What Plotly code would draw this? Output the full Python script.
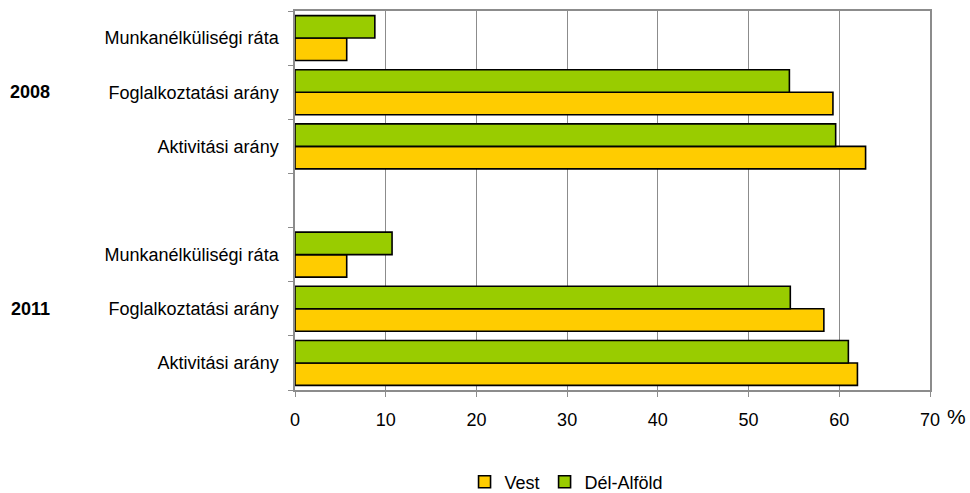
import plotly.graph_objects as go

# Category keys (bottom to top) and their display labels
cat_keys = ["2011|Akt", "2011|Fog", "2011|Mun", "gap", "2008|Akt", "2008|Fog", "2008|Mun"]
cat_labels = ["Aktivitási arány", "Foglalkoztatási arány", "Munkanélküliségi ráta", "",
              "Aktivitási arány", "Foglalkoztatási arány", "Munkanélküliségi ráta"]
bar_keys = ["2011|Akt", "2011|Fog", "2011|Mun", "2008|Akt", "2008|Fog", "2008|Mun"]
vest = [62.0, 58.3, 5.7, 62.9, 59.3, 5.7]
del_alfold = [61.0, 54.6, 10.7, 59.6, 54.5, 8.8]
years = ["2008", "2011"]
year_pos = ["2008|Fog", "2011|Fog"]
x_ticks = [0, 10, 20, 30, 40, 50, 60, 70]

FONT = "Liberation Sans, Arial, sans-serif"

fig = go.Figure()
fig.add_trace(go.Bar(y=bar_keys, x=vest, orientation="h", name="Vest",
                     marker=dict(color="#FFCC00", line=dict(color="black", width=1.6))))
fig.add_trace(go.Bar(y=bar_keys, x=del_alfold, orientation="h", name="Dél-Alföld",
                     marker=dict(color="#99CC00", line=dict(color="black", width=1.6))))

for yr, pos in zip(years, year_pos):
    fig.add_annotation(text="<b>" + yr + "</b>", xref="paper", yref="y", x=-0.417, y=pos,
                       yshift=0, xanchor="center", yanchor="middle", showarrow=False,
                       font=dict(family=FONT, size=18, color="black"))

fig.add_annotation(text="%", xref="paper", yref="paper", x=1.024, y=-0.07,
                   xanchor="left", yanchor="middle", showarrow=False,
                   font=dict(family=FONT, size=21, color="black"))

fig.update_layout(
    width=970, height=493,
    margin=dict(l=295, r=40, t=11, b=103, autoexpand=False),
    paper_bgcolor="white", plot_bgcolor="white",
    barmode="group", bargap=0.17, bargroupgap=0,
    font=dict(family=FONT, size=18, color="black"),
    showlegend=True,
    legend=dict(orientation="h", x=0.267, xanchor="left", y=-0.243, yanchor="middle",
                font=dict(family=FONT, size=18), itemwidth=30, tracegroupgap=0,
                traceorder="normal"),
    xaxis=dict(range=[0, 70], tickvals=x_ticks, showgrid=True, gridcolor="#8c8c8c",
               gridwidth=1, showline=True, linecolor="#8c8c8c", linewidth=1.5, mirror=True,
               ticks="outside", ticklen=5, tickcolor="#8c8c8c", zeroline=False,
               ticklabelstandoff=8, tickfont=dict(size=18)),
    yaxis=dict(type="category", categoryorder="array", categoryarray=cat_keys,
               tickvals=cat_keys, ticktext=cat_labels, tickson="boundaries",
               ticks="outside", ticklen=5, tickcolor="#8c8c8c",
               showline=True, linecolor="#8c8c8c", linewidth=1.5, mirror=True,
               showgrid=False, ticklabelstandoff=11, tickfont=dict(size=18)),
)

fig.write_html("out.html", config={"displayModeBar": False},
               post_script="document.body.style.margin='0';")
